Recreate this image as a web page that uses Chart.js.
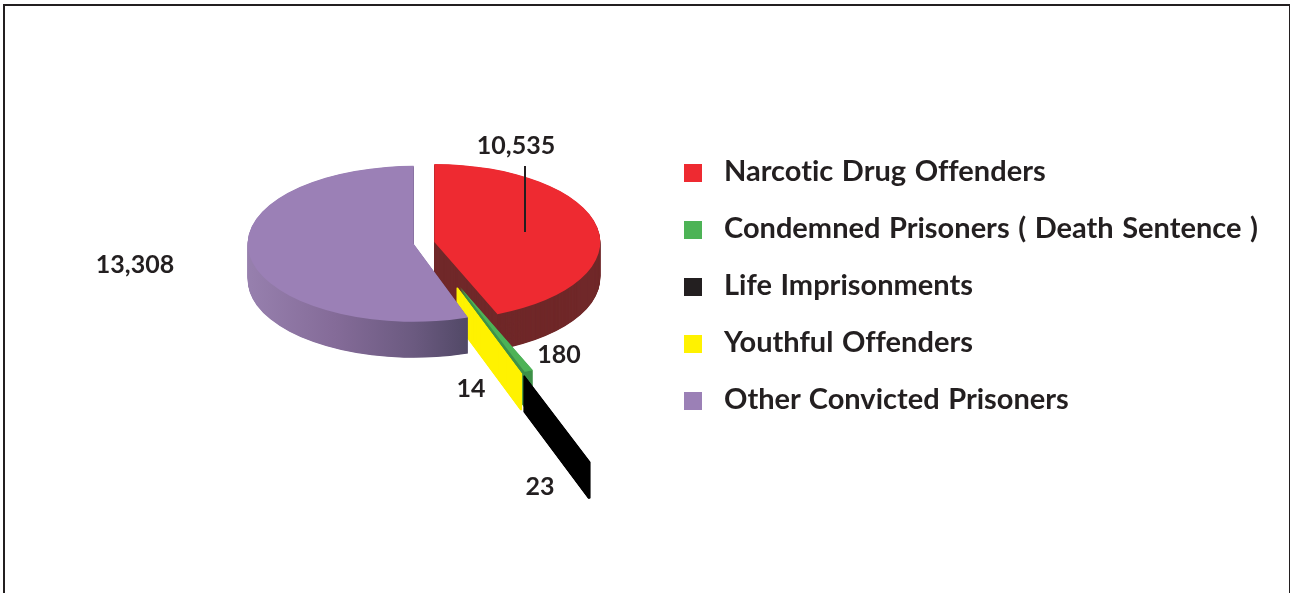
<!DOCTYPE html>
<html>
<head>
<meta charset="utf-8">
<style>
  html, body { margin: 0; padding: 0; background: #fff; overflow: hidden; }
  #frame { position: absolute; left: 3px; top: 4px; width: 1284px; height: 589px; border: 2px solid #231f20; border-bottom: none; }
  #second_chart { position: absolute; left: 0; top: 0; }
  #legend { position: absolute; left: 684px; top: 141px; font: bold 29px Lato, sans-serif; font-variant-ligatures: none; word-spacing: 1.5px; color: #231f20; }
  #legend div { height: 57px; line-height: 57px; white-space: nowrap; }
  #legend i { display: inline-block; width: 18px; height: 18px; margin-right: 22px; vertical-align: -1px; }
</style>
</head>
<body>
<div id="frame"></div>
<canvas id="second_chart" width="1290" height="593"></canvas>
<div id="legend"></div>
<script src="https://cdn.jsdelivr.net/npm/chart.js@4"></script>
<script>
const categories = ['Narcotic Drug Offenders', 'Condemned Prisoners ( Death Sentence )', 'Life Imprisonments', 'Youthful Offenders', 'Other Convicted Prisoners'];
const prisoners = [10535, 180, 23, 14, 13308];

const topColors = ['#ee2a31', '#4db356', '#000000', '#fff200', '#9b80b6'];
const legendColors = ['#ee2a31', '#4db356', '#231f20', '#fff200', '#9b80b6'];
const wallColors = ['#702829', '#3f9149', '#000000', '#fff200', null];

// how far each slice is pulled out, and its radius (before the tilt)
const pull = [10.5, 100, 300, 101, 10.5];
const reach = [166, 192, 195, 194, 166];
// the thin slices need a stroke or they come out see-through
const wallStroke = [0, 0, 1.5, 1.5, 0];
const drawOrder = [0, 1, 2, 3, 4];

const labelSpots = [[516, 146], [559, 355], [540, 487], [471, 389], [135, 265]];

const tilt = 0.47;
const depth = 36;
const cy = 243;

function wallOptions(color, stroke) {
    return {
        backgroundColor: color, borderColor: color, borderWidth: stroke, borderRadius: 0,
        borderDash: [], borderDashOffset: 0, borderJoinStyle: 'round',
        offset: 0, spacing: 0, circular: true, borderAlign: 'center'
    };
}

const pie3d = {
    id: 'pie3d',
    afterDatasetUpdate(chart, args) {
        chart.getDatasetMeta(args.index).data.forEach((arc, i) => {
            const mid = (arc.startAngle + arc.endAngle) / 2;
            arc.x += Math.cos(mid) * pull[i];
            arc.y += Math.sin(mid) * pull[i];
            arc.outerRadius = reach[i];
        });
    },
    beforeDatasetDraw() {
        return false;
    },
    beforeDatasetsDraw(chart) {
        const ctx = chart.ctx;
        const arcs = chart.getDatasetMeta(0).data;
        const purpleWall = ctx.createLinearGradient(247, 0, 469, 0);
        purpleWall.addColorStop(0, '#9780ae');
        purpleWall.addColorStop(0.4, '#846b98');
        purpleWall.addColorStop(0.75, '#6b5a80');
        purpleWall.addColorStop(1, '#514866');

        ctx.save();
        ctx.translate(0, cy);
        ctx.scale(1, tilt);
        ctx.translate(0, -cy);
        drawOrder.forEach(i => {
            const arc = arcs[i];
            const own = arc.options;
            arc.options = wallOptions(wallColors[i] || purpleWall, wallStroke[i]);
            for (let d = depth; d > 0; d -= 0.5) {
                ctx.save();
                ctx.translate(0, d / tilt);
                arc.draw(ctx);
                ctx.restore();
            }
            if (wallStroke[i]) {
                arc.options = wallOptions(topColors[i], wallStroke[i]);
                arc.draw(ctx);
            }
            arc.options = own;
            arc.draw(ctx);
        });
        ctx.restore();
    },
    afterDatasetsDraw(chart) {
        const ctx = chart.ctx;
        ctx.save();
        ctx.strokeStyle = '#231f20';
        ctx.lineWidth = 2;
        ctx.beginPath();
        ctx.moveTo(525, 166);
        ctx.lineTo(525, 232);
        ctx.stroke();
        ctx.fillStyle = '#231f20';
        ctx.font = 'bold 25px Lato, sans-serif';
        ctx.textAlign = 'center';
        ctx.textBaseline = 'middle';
        prisoners.forEach((v, i) => {
            ctx.fillText(v.toLocaleString('en-US'), labelSpots[i][0], labelSpots[i][1]);
        });
        ctx.restore();
    }
};

const ctx2 = document.getElementById('second_chart');

const myChart2 = new Chart(ctx2, {
    type: 'pie',
    data: {
        labels: categories,
        datasets: [{
            data: prisoners,
            backgroundColor: topColors,
            borderWidth: 0
        }]
    },
    options: {
        responsive: false,
        animation: false,
        layout: { padding: { left: 0, top: 4, right: 442, bottom: 111 } },
        plugins: {
            legend: { display: false },
            tooltip: { enabled: false }
        }
    },
    plugins: [pie3d]
});

document.getElementById('legend').innerHTML = categories.map((name, i) =>
    '<div><i style="background:' + legendColors[i] + '"></i>' + name + '</div>').join('');
</script>
</body>
</html>
